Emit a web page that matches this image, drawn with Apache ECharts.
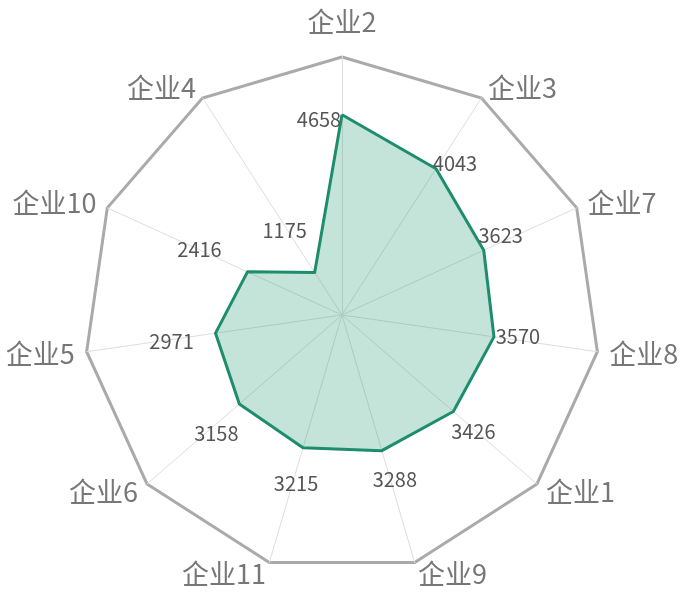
<!DOCTYPE html>
<html>
<head>
<meta charset="utf-8">
<script src="https://cdn.jsdelivr.net/npm/echarts@6/dist/echarts.min.js"></script>
<style>
html,body{margin:0;padding:0;background:#fff;}
#main{width:690px;height:604px;}
</style>
</head>
<body>
<div id="main"></div>
<script>
// Indicators in ECharts order (top, then counter-clockwise)
const indicatorNames = ['企业2', '企业4', '企业10', '企业5', '企业6', '企业11', '企业9', '企业1', '企业8', '企业7', '企业3'];
const values = [4658, 1175, 2416, 2971, 3158, 3215, 3288, 3426, 3570, 3623, 4043];
const maxValue = 6000;

// label nudges (style only), same order as indicators
const labelShift = [[-23, 5], [-30, -42], [-48, -22], [-44, 8], [-23, 29], [-7, 36], [13, 29], [20, 20], [24, 0], [17, -15], [19, -5]];

const chart = echarts.init(document.getElementById('main'));
chart.setOption({
  backgroundColor: '#fff',
  animation: false,
  radar: {
    center: [342, 315],
    radius: 258,
    startAngle: 90,
    shape: 'polygon',
    splitNumber: 1,
    nameGap: 12,
    axisName: {
      color: '#777',
      fontSize: 27,
      lineHeight: 46,
      fontFamily: 'Noto Sans CJK SC'
    },
    indicator: indicatorNames.map(n => ({ name: n, max: maxValue, min: 0 })),
    axisLine: { lineStyle: { color: '#dedede', width: 1 } },
    splitLine: { lineStyle: { color: '#aaaaaa', width: 3 } },
    splitArea: { show: false },
    axisTick: { show: false },
    axisLabel: { show: false }
  },
  series: [{
    type: 'radar',
    symbol: 'circle',
    symbolSize: 1,
    itemStyle: { color: '#1b8b6b' },
    lineStyle: { color: '#1b8b6b', width: 3 },
    areaStyle: { color: '#2a9d78', opacity: 0.28 },
    label: {
      show: true,
      position: 'inside',
      color: '#555',
      fontSize: 20,
      fontFamily: 'Noto Sans CJK SC'
    },
    labelLayout: function (params) {
      const i = values.indexOf(Number(params.text));
      if (i < 0) return {};
      return { dx: labelShift[i][0], dy: labelShift[i][1] };
    },
    data: [{ value: values, name: '企业' }]
  }]
});
</script>
</body>
</html>
